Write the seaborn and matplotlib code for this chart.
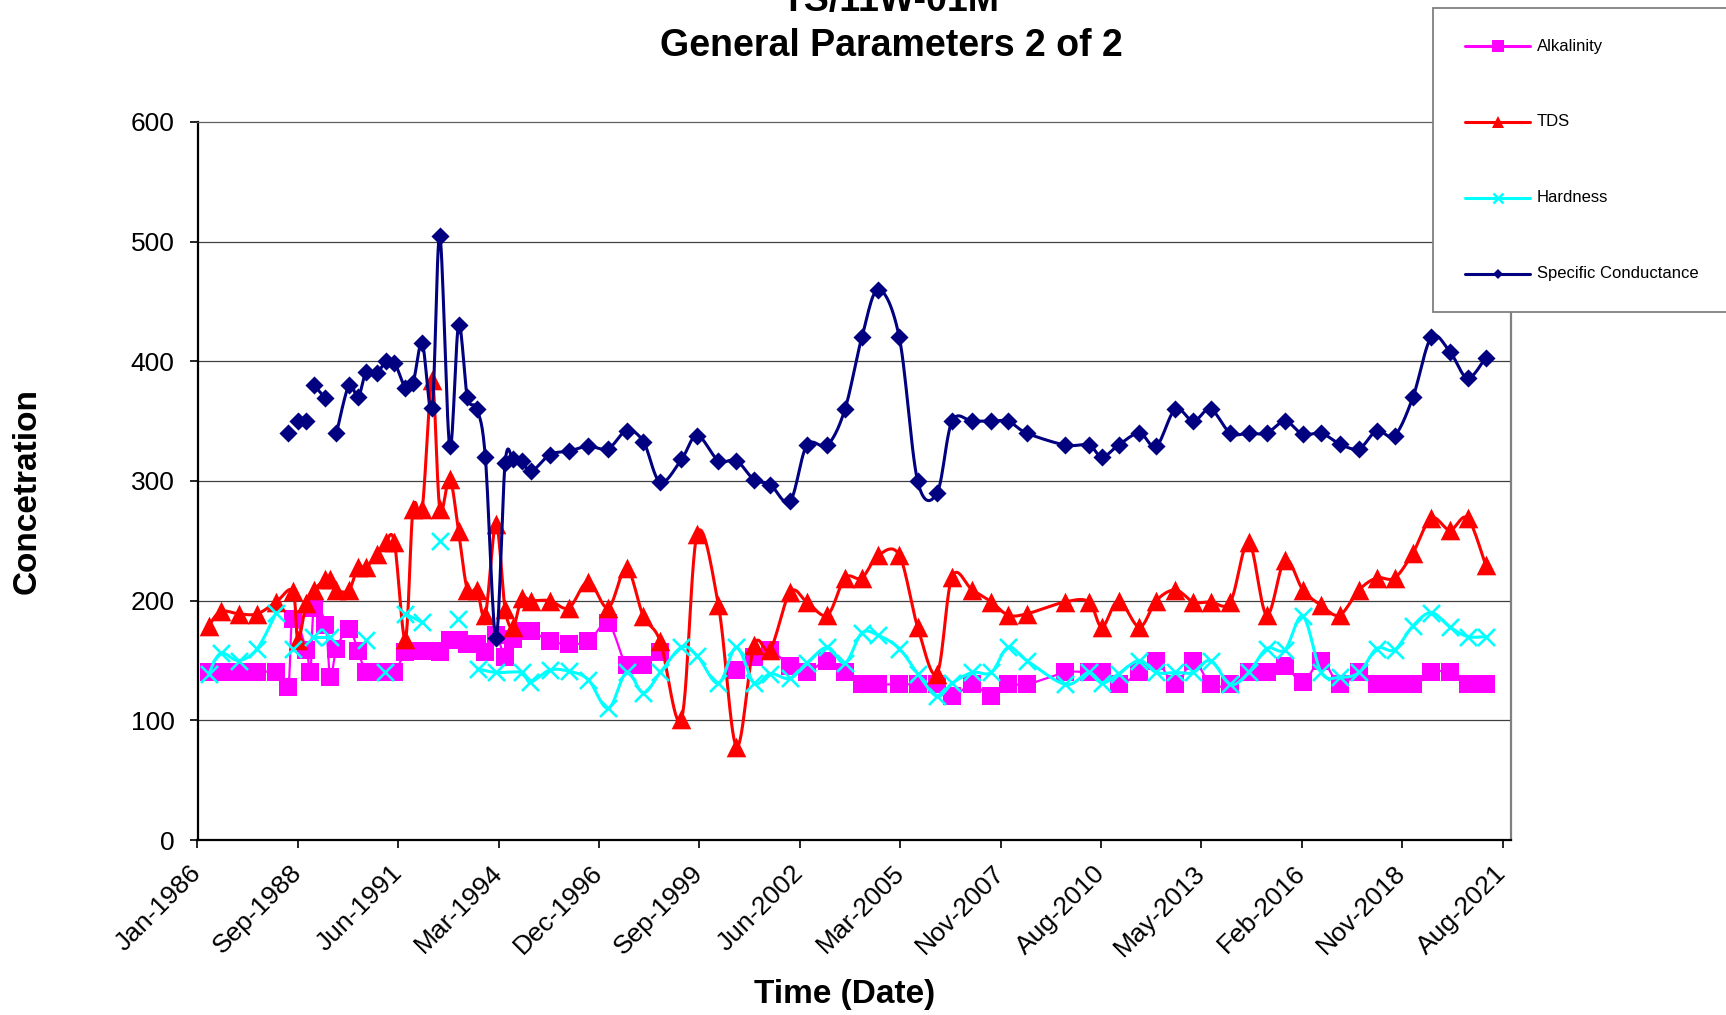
import datetime as dt

import numpy as np
import pandas as pd
import matplotlib
matplotlib.use("Agg")
import matplotlib.pyplot as plt
import matplotlib.dates as mdates
from matplotlib.lines import Line2D
from matplotlib.patches import Rectangle
import seaborn as sns

# ---------------------------------------------------------------------------
# Sampling record (decimal year).  None marks a break in a series' line.
# ---------------------------------------------------------------------------
alk_year = [1986.31, 1986.63, 1987.13, 1987.63, 1988.15, 1988.47, 1988.60, 1988.97,
            1989.08, 1989.18, 1989.49, 1989.62, 1989.79, 1990.13, 1990.38, 1990.60,
            1990.90, 1991.13, 1991.37, 1991.67, 1991.88, 1992.13, 1992.40, 1992.61,
            1992.88, 1993.12, 1993.36, 1993.62, 1993.85, 1994.14, 1994.39, 1994.61,
            1994.84, 1995.10, 1995.61, 1996.13, 1996.66, 1997.20, 1997.70, 1998.16,
            1998.62, 1999.60, 2000.70, 2001.18, 2001.62, 2002.16, 2002.62, 2003.18,
            2003.66, 2004.12, 2004.57, 2005.14, 2005.64, 2006.17, 2006.58, 2007.13,
            2007.65, 2008.11, 2008.62, 2009.67, 2010.31, 2010.67, 2011.12, 2011.69,
            2012.15, 2012.67, 2013.16, 2013.63, 2014.17, 2014.67, 2015.16, 2015.66,
            2016.15, 2016.65, 2017.15, 2017.68, 2018.16, 2018.65, 2019.15, 2019.65,
            2020.16, 2020.64, 2021.13]
alk_value = [140, 140, 140, 140, 140, 128, 185, 159,
             140, 194, 180, 136, 160, 176, 158, 140,
             140, 140, 140, 157, 158, 158, 158, 157,
             167, 167, 164, 164, 157, 171, 153, 168,
             175, 175, 166, 164, 166, 181, 146, 146,
             157, None, 142, 153, 159, 145, 140, 150,
             140, 130, 130, 130, 130, 130, 120, 130,
             120, 130, 130, 140, 140, 140, 130, 140,
             150, 130, 150, 130, 130, 140, 140, 145,
             132, 150, 130, 140, 130, 130, 130, 140,
             140, 130, 130]

tds_year = [1986.31, 1986.63, 1987.13, 1987.63, 1988.15, 1988.60, 1988.74, 1988.97,
            1989.18, 1989.49, 1989.62, 1989.79, 1990.13, 1990.38, 1990.60, 1990.90,
            1991.13, 1991.37, 1991.67, 1991.88, 1992.13, 1992.40, 1992.61, 1992.88,
            1993.12, 1993.36, 1993.62, 1993.85, 1994.14, 1994.39, 1994.61, 1994.84,
            1995.10, 1995.61, 1996.13, 1996.66, 1997.20, 1997.70, 1998.16, 1998.62,
            1999.20, 1999.63, 2000.21, 2000.70, 2001.18, 2001.62, 2002.16, 2002.62,
            2003.18, 2003.66, 2004.12, 2004.57, 2005.14, 2005.64, 2006.17, 2006.58,
            2007.13, 2007.65, 2008.11, 2008.62, 2009.67, 2010.31, 2010.67, 2011.12,
            2011.69, 2012.15, 2012.67, 2013.16, 2013.63, 2014.17, 2014.67, 2015.16,
            2015.66, 2016.15, 2016.65, 2017.15, 2017.68, 2018.16, 2018.65, 2019.15,
            2019.65, 2020.16, 2020.64, 2021.13]
tds_value = [179, 191, 189, 189, 199, 208, 167, 198,
             209, 218, 218, 209, 209, 228, 228, 239,
             249, 249, 168, 277, 277, 384, 277, 302,
             258, 209, 209, 188, 264, 193, 178, 202,
             200, 200, 194, 216, 194, 227, 187, 166,
             101, 256, 196, 78, 163, 159, 207, 199,
             188, 219, 219, 238, 238, 178, 139, 220,
             209, 199, 188, 189, 199, 199, 178, 200,
             178, 200, 209, 199, 199, 199, 249, 188,
             234, 209, 196, 188, 209, 219, 219, 240,
             269, 259, 269, 230]

hard_year = [1986.31, 1986.63, 1987.13, 1987.63, 1988.15, 1988.40, 1988.60, 1988.90,
             1989.15, 1989.62, 1990.10, 1990.60, 1990.90, 1991.12, 1991.40, 1991.67,
             1992.12, 1992.40, 1992.61, 1992.88, 1993.11, 1993.40, 1993.64, 1994.14,
             1994.84, 1995.08, 1995.61, 1996.13, 1996.66, 1997.20, 1997.70, 1998.16,
             1998.62, 1999.20, 1999.63, 2000.21, 2000.70, 2001.18, 2001.62, 2002.16,
             2002.62, 2003.18, 2003.66, 2004.12, 2004.57, 2005.14, 2005.64, 2006.17,
             2006.58, 2007.13, 2007.65, 2008.11, 2008.62, 2009.67, 2010.31, 2010.67,
             2011.12, 2011.69, 2012.15, 2012.67, 2013.16, 2013.63, 2014.17, 2014.67,
             2015.16, 2015.66, 2016.15, 2016.65, 2017.15, 2017.68, 2018.16, 2018.65,
             2019.15, 2019.65, 2020.16, 2020.64, 2021.13]
hard_value = [139, 156, 150, 160, 190, None, 160, None,
              170, 170, None, 167, None, 140, None, 189,
              182, None, 250, None, 185, None, 143, 140,
              140, 132, 142, 141, 134, 110, 140, 123,
              140, 161, 154, 131, 161, 131, 139, 135,
              148, 161, 148, 173, 171, 160, 139, 120,
              131, 140, 140, 161, 150, 130, 140, 131,
              139, 150, 140, 140, 140, 150, 130, 140,
              160, 159, 187, 140, 136, 140, 160, 159,
              179, 190, 178, 170, 170]

cond_year = [1988.47, 1988.60, 1988.74, 1988.97, 1989.08, 1989.18, 1989.49, 1989.62,
             1989.79, 1990.13, 1990.38, 1990.60, 1990.90, 1991.13, 1991.37, 1991.67,
             1991.88, 1992.13, 1992.40, 1992.61, 1992.88, 1993.12, 1993.36, 1993.62,
             1993.85, 1994.14, 1994.39, 1994.61, 1994.84, 1995.10, 1995.61, 1996.13,
             1996.66, 1997.20, 1997.70, 1998.16, 1998.62, 1999.20, 1999.63, 2000.21,
             2000.70, 2001.18, 2001.62, 2002.16, 2002.62, 2003.18, 2003.66, 2004.12,
             2004.57, 2005.14, 2005.64, 2006.17, 2006.58, 2007.13, 2007.65, 2008.11,
             2008.62, 2009.67, 2010.31, 2010.67, 2011.12, 2011.69, 2012.15, 2012.67,
             2013.16, 2013.63, 2014.17, 2014.67, 2015.16, 2015.66, 2016.15, 2016.65,
             2017.15, 2017.68, 2018.16, 2018.65, 2019.15, 2019.65, 2020.16, 2020.64,
             2021.13]
cond_value = [340, None, 350, 350, None, 380, 369, None,
              340, 380, 370, 391, 390, 400, 399, 378,
              382, 415, 361, 505, 329, 430, 370, 360,
              320, 169, 315, 318, 317, 308, 322, 325,
              329, 327, 342, 333, 299, 318, 338, 317,
              317, 301, 297, 283, 330, 330, 360, 420,
              460, 420, 300, 290, 350, 350, 350, 350,
              340, 330, 330, 320, 330, 340, 329, 360,
              350, 360, 340, 340, 340, 350, 339, 340,
              331, 327, 342, 338, 370, 420, 408, 386,
              403]

series_names = ["Alkalinity", "TDS", "Hardness", "Specific Conductance"]
y_ticks = [0, 100, 200, 300, 400, 500, 600]
x_tick_labels = ["Jan-1986", "Sep-1988", "Jun-1991", "Mar-1994", "Dec-1996",
                 "Sep-1999", "Jun-2002", "Mar-2005", "Nov-2007", "Aug-2010",
                 "May-2013", "Feb-2016", "Nov-2018", "Aug-2021"]
title_lines = ["TS/11W-01M", "General Parameters 2 of 2"]

# ---------------------------------------------------------------------------
# Helpers
# ---------------------------------------------------------------------------
W, H = 1726, 1015


def px_x(px):
    return px / W


def px_y(py):
    return 1 - py / H


def year_to_num(y):
    whole = int(y)
    d = dt.datetime(whole, 1, 1) + dt.timedelta(days=(y - whole) * 365.25)
    return mdates.date2num(d)


def segments(years, values):
    """Split a record into runs of consecutive non-missing samples."""
    runs, cur = [], []
    for yr, v in zip(years, values):
        if v is None:
            if cur:
                runs.append(cur)
            cur = []
        else:
            cur.append((year_to_num(yr), float(v)))
    if cur:
        runs.append(cur)
    return runs


def smooth_run(run, n=14):
    """Bezier smoothing through every sample (spreadsheet-style smoothed line)."""
    pts = np.array(run, dtype=float)
    m = len(pts)
    if m < 2:
        return pts
    t = np.linspace(0, 1, n + 1)[1:][:, None]
    out = [pts[:1]]
    for i in range(m - 1):
        p0 = pts[i - 1] if i > 0 else pts[i]
        p1, p2 = pts[i], pts[i + 1]
        p3 = pts[i + 2] if i + 2 < m else pts[i + 1]
        c1 = p1 + (p2 - p0) / 6.0
        c2 = p2 - (p3 - p1) / 6.0
        seg = ((1 - t) ** 3) * p1 + 3 * ((1 - t) ** 2) * t * c1 + 3 * (1 - t) * t ** 2 * c2 + t ** 3 * p2
        out.append(seg)
    return np.vstack(out)


def curve_frame(years, values):
    frames = []
    for k, run in enumerate(segments(years, values)):
        c = smooth_run(run)
        frames.append(pd.DataFrame({"x": c[:, 0], "y": c[:, 1], "seg": k}))
    return pd.concat(frames, ignore_index=True)


def point_frame(years, values):
    rows = [(year_to_num(yr), v) for yr, v in zip(years, values) if v is not None]
    return pd.DataFrame(rows, columns=["x", "y"])


# ---------------------------------------------------------------------------
# Figure
# ---------------------------------------------------------------------------
sns.set_style("white")
plt.rcParams["font.family"] = ["Liberation Sans", "DejaVu Sans"]
plt.rcParams["text.color"] = "black"
plt.rcParams["axes.labelcolor"] = "black"
plt.rcParams["xtick.color"] = "black"
plt.rcParams["ytick.color"] = "black"

fig = plt.figure(figsize=(W / 100, H / 100), dpi=100, facecolor="white")

ax_left, ax_right, ax_top, ax_bottom = 197.5, 1510.5, 122, 840
ax = fig.add_axes([px_x(ax_left), px_y(ax_bottom),
                   px_x(ax_right - ax_left), (ax_bottom - ax_top) / H])

styles = [
    # name, years, values, colour, marker, size, line width, marker line width, zorder
    ("Alkalinity", alk_year, alk_value, "#FF00FF", "s", 185, 1.6, 0, 3),
    ("TDS", tds_year, tds_value, "#FF0000", "^", 200, 2.2, 0, 4),
    ("Hardness", hard_year, hard_value, "#00FFFF", "x", 150, 2.2, 1.9, 5),
    ("Specific Conductance", cond_year, cond_value, "#000080", "D", 85, 2.2, 0, 6),
]

for name, yrs, vals, col, mk, size, lw, mlw, z in styles:
    curve = curve_frame(yrs, vals)
    sns.lineplot(data=curve, x="x", y="y", units="seg", estimator=None, sort=False,
                 color=col, linewidth=lw, zorder=z, ax=ax, legend=False)
    pts = point_frame(yrs, vals)
    if mk == "x":
        sns.scatterplot(data=pts, x="x", y="y", marker=mk, s=size, color=col,
                        linewidth=mlw, zorder=z + 0.5, ax=ax, legend=False)
    else:
        sns.scatterplot(data=pts, x="x", y="y", marker=mk, s=size, color=col,
                        edgecolor=col, linewidth=0, zorder=z + 0.5, ax=ax, legend=False)

# Axes ranges: 1000-day major unit starting Jan 1986
start = dt.datetime(1986, 1, 1)
x0 = mdates.date2num(start)
tick_pos = [x0 + 1000 * k for k in range(len(x_tick_labels))]
last_tick_px = 1502.5
days_per_px = 13000 / (last_tick_px - ax_left)
ax.set_xlim(x0, x0 + (ax_right - ax_left) * days_per_px)
ax.set_ylim(0, 600)

ax.set_xticks(tick_pos)
ax.set_xticklabels(x_tick_labels, rotation=45, ha="right", va="center",
                   rotation_mode="anchor", fontsize=19, color="black")
ax.set_yticks(y_ticks)
ax.set_yticklabels([str(v) for v in y_ticks], fontsize=19, color="black")
ax.tick_params(axis="x", direction="out", length=6, width=1.2, color="black",
               pad=15, bottom=True)
ax.tick_params(axis="y", direction="out", length=6, width=1.2, color="black",
               pad=10.5, left=True)
ax.set_xlabel("")
ax.set_ylabel("")

for v in y_ticks[1:-1]:
    ax.axhline(v, color="#404040", linewidth=0.9, zorder=0.5)

ax.spines["left"].set_color("black")
ax.spines["left"].set_linewidth(1.6)
ax.spines["bottom"].set_color("black")
ax.spines["bottom"].set_linewidth(1.6)
ax.spines["right"].set_color("#808080")
ax.spines["right"].set_linewidth(1.6)
ax.spines["top"].set_color("#606060")
ax.spines["top"].set_linewidth(0.9)
ax.set_facecolor("white")

# Titles and axis titles
fig.text(px_x(891), px_y(11), title_lines[0], ha="center", va="baseline",
         fontsize=27, fontweight="bold", color="black")
fig.text(px_x(891), px_y(56), title_lines[1], ha="center", va="baseline",
         fontsize=27, fontweight="bold", color="black")
fig.text(px_x(27.5), px_y(491), "Concetration", rotation=90, ha="center",
         va="center", fontsize=24, fontweight="bold", color="black")
fig.text(px_x(845), px_y(994), "Time (Date)", ha="center", va="center",
         fontsize=24, fontweight="bold", color="black")

# Legend box (runs off the right edge of the chart area)
fig.add_artist(Rectangle((px_x(1432.5), px_y(312)), px_x(1760 - 1432.5),
                         (312 - 8.3) / H, transform=fig.transFigure,
                         facecolor="white", edgecolor="#808080", linewidth=1.3,
                         zorder=10))
legend_rows = [46, 122, 198, 274]
legend_marker = {"s": 8.5, "^": 8.5, "x": 7.5, "D": 5.6}
for (name, _, _, col, mk, _, _, _, _), row in zip(styles, legend_rows):
    yy = px_y(row)
    ln = Line2D([px_x(1465), px_x(1497.5), px_x(1530)], [yy, yy, yy],
                transform=fig.transFigure, color=col, linewidth=2.2,
                marker=mk, markevery=[1], markersize=legend_marker[mk],
                markerfacecolor=col, markeredgecolor=col,
                markeredgewidth=1.8 if mk == "x" else 0, zorder=11)
    fig.add_artist(ln)
    fig.text(px_x(1537), yy, name, ha="left", va="center", fontsize=12,
             color="black", zorder=12)

fig.savefig("out.png", dpi=100, facecolor="white")
